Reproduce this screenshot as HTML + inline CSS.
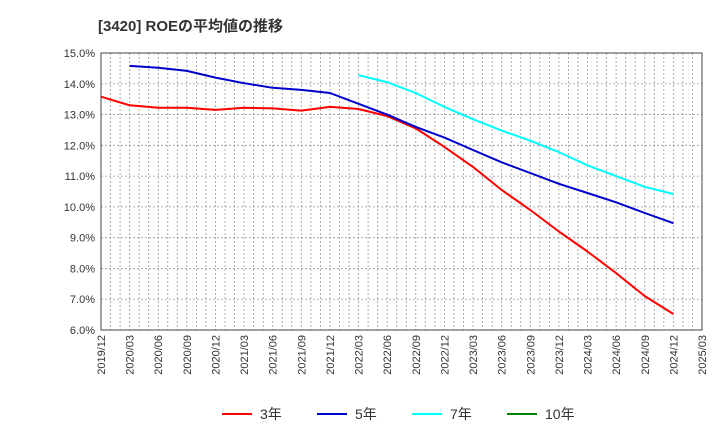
<!DOCTYPE html>
<html><head><meta charset="utf-8"><style>
body{margin:0;background:#fff;font-family:"Liberation Sans","Noto Sans CJK JP",sans-serif;}
</style></head><body>
<svg id="chart" width="720" height="440" xmlns="http://www.w3.org/2000/svg">
<text x="98" y="31" font-size="15" font-weight="bold" fill="#333" font-family="Liberation Sans,Noto Sans CJK JP,sans-serif">[3420]  ROEの平均値の推移</text>
<g id="grid"></g><g id="axes"></g><g id="series"></g><g id="legend"></g>
</svg>
<script>
const xLabels=["2019/12","2020/03","2020/06","2020/09","2020/12","2021/03","2021/06","2021/09","2021/12","2022/03","2022/06","2022/09","2022/12","2023/03","2023/06","2023/09","2023/12","2024/03","2024/06","2024/09","2024/12","2025/03"];
const yTicks=[6,7,8,9,10,11,12,13,14,15];
const roe3=[13.58,13.3,13.22,13.22,13.15,13.22,13.2,13.13,13.25,13.18,12.95,12.55,11.95,11.3,10.55,9.9,9.2,8.55,7.85,7.1,6.52];
const roe5=[null,14.58,14.52,14.42,14.2,14.02,13.87,13.8,13.7,13.35,13.0,12.6,12.25,11.85,11.45,11.1,10.75,10.45,10.15,9.8,9.47];
const roe7=[null,null,null,null,null,null,null,null,null,14.28,14.05,13.7,13.25,12.85,12.48,12.15,11.78,11.35,11.0,10.65,10.42];
const roe10=[];
const L=101,R=702,T=53,B=330,NS="http://www.w3.org/2000/svg";
const xs=i=>L+(R-L)*i/(xLabels.length-1);
const ys=v=>B-(v-6)/9*(B-T);
function mk(p,tag,a){const e=document.createElementNS(NS,tag);for(const k in a)e.setAttribute(k,a[k]);p.appendChild(e);return e;}
const grid=document.getElementById('grid'),axes=document.getElementById('axes'),ser=document.getElementById('series'),leg=document.getElementById('legend');
for(let m=1;m<(xLabels.length-1)*3;m++){const x=L+(R-L)*m/((xLabels.length-1)*3);
const g=mk(grid,'line',{x1:x,x2:x,y1:T,y2:B,stroke:'#999','stroke-dasharray':'2,2','stroke-width':0.8});

}
yTicks.forEach(v=>{const y=ys(v);
if(v>6&&v<15){const g=mk(grid,'line',{x1:L,x2:R,y1:y,y2:y,stroke:'#999','stroke-dasharray':'2,2','stroke-width':0.8});

}
const t=mk(axes,'text',{x:L-6,y:y+4,'text-anchor':'end','font-size':11,fill:'#333'});t.textContent=v.toFixed(1)+'%';

});
const box=mk(axes,'rect',{x:L,y:T,width:R-L,height:B-T,fill:'none',stroke:'#444','stroke-width':1});


xLabels.forEach((s,i)=>{const x=xs(i);const t=mk(axes,'text',{x:x+4,y:B+5,'text-anchor':'end','font-size':11,fill:'#333',transform:`rotate(-90 ${x+4} ${B+5})`});t.textContent=s;

});
function line(d,c,n){let p='';d.forEach((v,i)=>{if(v==null)return;p+=(p?'L':'M')+xs(i).toFixed(1)+' '+ys(v).toFixed(1);});
if(!p)return;const e=mk(ser,'path',{d:p,fill:'none',stroke:c,'stroke-width':2,'stroke-linejoin':'round'});

}
line(roe3,'#ff0000','line-3yr');line(roe5,'#0000cc','line-5yr');line(roe7,'#00ffff','line-7yr');line(roe10,'#008000','line-10yr');
[['3年','#ff0000',222],['5年','#0000cc',317],['7年','#00ffff',412],['10年','#008000',507]].forEach(([s,c,x])=>{
const g=mk(leg,'g',{});


mk(g,'line',{x1:x,x2:x+30,y1:414,y2:414,stroke:c,'stroke-width':2});
const t=mk(g,'text',{x:x+38,y:419,'font-size':14,fill:'#333'});t.textContent=s;});
</script>
</body></html>
